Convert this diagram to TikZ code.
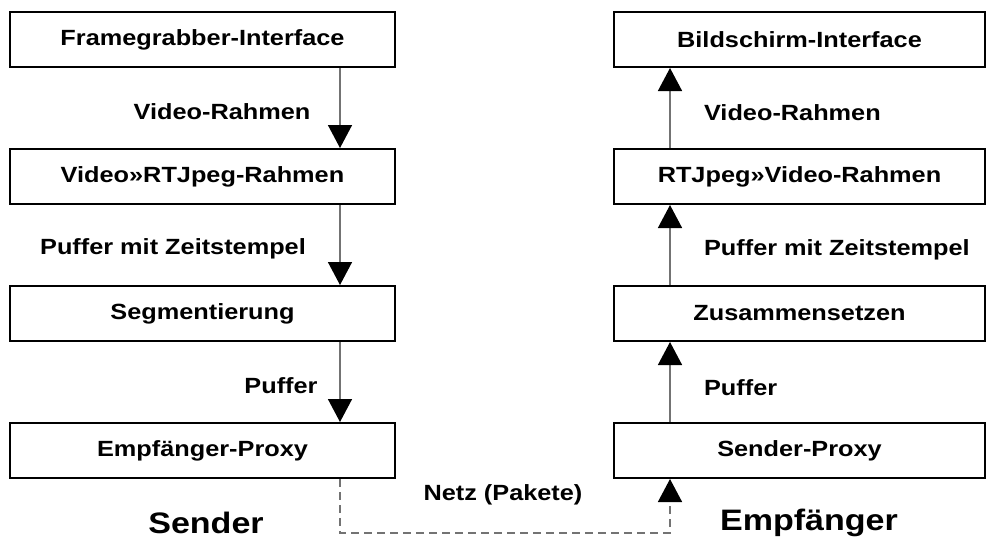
\documentclass[tikz,border=0pt]{standalone}
\usepackage{fontspec}
\setmainfont{Liberation Sans}[FakeStretch=1.15]
\usepackage{tikz}
\usetikzlibrary{arrows.meta}

\begin{document}
\begin{tikzpicture}[x=0.5pt,y=-0.5pt,
  every node/.style={font=\fontsize{11}{13}\selectfont\bfseries},
  stage/.style={draw=black, line width=1pt, inner sep=0pt, minimum height=27.5pt},
  lstage/.style={stage, minimum width=192.5pt},
  rstage/.style={stage, minimum width=185.5pt},
  flow/.style={draw=black!55, line width=0.75pt, -{Triangle[length=11.5pt,width=12pt,black]}},
  net/.style={draw=black!55, line width=0.75pt, dash pattern=on 4pt off 2.5pt, -{Triangle[length=11.5pt,width=12pt,black]}},
  side/.style={font=\fontsize{14.8}{17}\selectfont\bfseries}]
\useasboundingbox (0,0) rectangle (989,541);
% Sender
\node[lstage] (fgi) at (202.5,39.5) {Framegrabber-Interface};
\node[lstage] (v2r) at (202.5,176.5) {Video»RTJpeg-Rahmen};
\node[lstage] (seg) at (202.5,313.5) {Segmentierung};
\node[lstage] (epx) at (202.5,450.5) {Empfänger-Proxy};
% Empfaenger
\node[rstage] (bsi) at (799.5,39.5) {Bildschirm-Interface};
\node[rstage] (r2v) at (799.5,176.5) {RTJpeg»Video-Rahmen};
\node[rstage] (zus) at (799.5,313.5) {Zusammensetzen};
\node[rstage] (spx) at (799.5,450.5) {Sender-Proxy};
\draw[flow] ([xshift=68.75pt]fgi.south) -- ([xshift=68.75pt]v2r.north);
\draw[flow] ([xshift=68.75pt]v2r.south) -- ([xshift=68.75pt]seg.north);
\draw[flow] ([xshift=68.75pt]seg.south) -- ([xshift=68.75pt]epx.north);
\draw[flow] ([xshift=-64.75pt]spx.north) -- ([xshift=-64.75pt]zus.south);
\draw[flow] ([xshift=-64.75pt]zus.north) -- ([xshift=-64.75pt]r2v.south);
\draw[flow] ([xshift=-64.75pt]r2v.north) -- ([xshift=-64.75pt]bsi.south);
\node (lvr) at (222,112) {Video-Rahmen};
\node (lpz) at (173,249) {Puffer mit Zeitstempel};
\node (lpf) at (281,386) {Puffer};
\node[anchor=west] (rvr) at (697,113) {Video-Rahmen};
\node[anchor=west] (rpz) at (697,250) {Puffer mit Zeitstempel};
\node[anchor=west] (rpf) at (697,388) {Puffer};
% Netz
\coordinate (netc) at (505,533);
\draw[net] ([xshift=68.75pt]epx.south) |- (netc) -| ([xshift=-64.75pt]spx.south);
\node (ntz) at (503,495) {Netz (Pakete)};
\node[side] (snd) at (206,523) {Sender};
\node[side] (emp) at (809,523) {Empfänger};
\end{tikzpicture}
\end{document}
